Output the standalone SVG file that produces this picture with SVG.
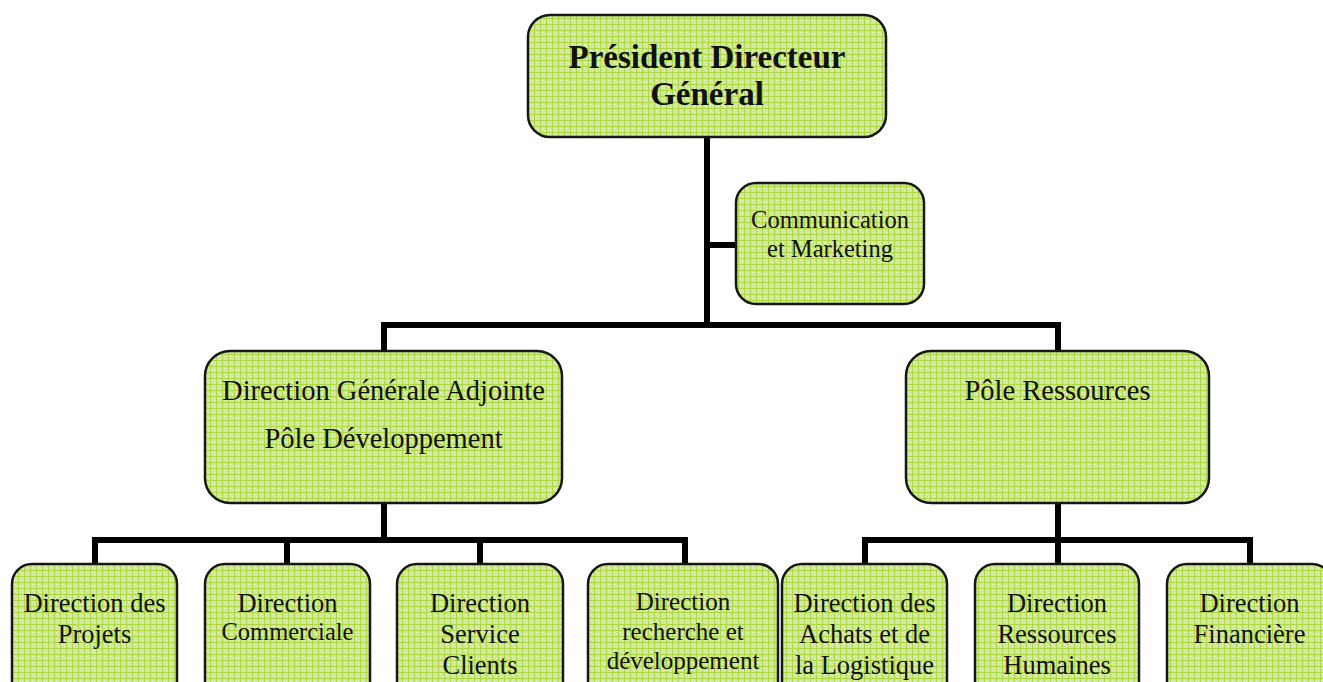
<svg xmlns="http://www.w3.org/2000/svg" width="1323" height="682" viewBox="0 0 1323 682">
<defs>
<pattern id="grid" width="6" height="6" patternUnits="userSpaceOnUse">
<rect width="6" height="6" fill="#d1e996"/>
<rect x="2" y="2" width="1" height="1" fill="#eef7d6"/>
<rect x="4" y="4" width="1" height="1" fill="#e6f3c4"/>
<rect x="0" y="0" width="6" height="1" fill="#aed844"/>
<rect x="0" y="0" width="1" height="6" fill="#aed844"/>
</pattern>
</defs>
<style>
.box{fill:url(#grid);stroke:#161616;stroke-width:2.5}
.t{font-family:"Liberation Serif","Times New Roman",serif;fill:#111;text-anchor:middle}
.c{fill:none;stroke:#000;stroke-width:6;stroke-linecap:square;stroke-linejoin:miter}
</style>
<rect width="1323" height="682" fill="#fff"/>
<g id="connectors">
<path class="c" d="M707 137V325M707 245H736M384 325H1058M384 325V351M1058 325V351"/>
<path class="c" d="M384 503V540M95 540H685M95 540V564M287 540V564M480 540V564M685 540V564"/>
<path class="c" d="M1058 503V564M865 540H1250M865 540V564M1250 540V564"/>
</g>
<g id="pdg">
<rect class="box" x="528" y="15" width="358" height="122" rx="22"/>
<text class="t" x="707" y="68" font-size="33" font-weight="bold">Président Directeur</text>
<text class="t" x="707" y="105" font-size="33" font-weight="bold">Général</text>
</g>
<g id="communication">
<rect class="box" x="736" y="183" width="188" height="121" rx="20"/>
<text class="t" x="830" y="228" font-size="24.5">Communication</text>
<text class="t" x="830" y="257" font-size="24.5">et Marketing</text>
</g>
<g id="dga">
<rect class="box" x="205" y="351" width="357" height="152" rx="25"/>
<text class="t" x="383.5" y="400" font-size="28.5">Direction Générale Adjointe</text>
<text class="t" x="383.5" y="448" font-size="28.5">Pôle Développement</text>
</g>
<g id="ressources">
<rect class="box" x="906" y="351" width="303" height="152" rx="25"/>
<text class="t" x="1057.5" y="400" font-size="28.5">Pôle Ressources</text>
</g>
<g id="projets">
<rect class="box" x="12" y="564" width="165" height="140" rx="20"/>
<text class="t" x="94.5" y="612" font-size="26.5">Direction des</text>
<text class="t" x="94.5" y="643" font-size="26.5">Projets</text>
</g>
<g id="commerciale">
<rect class="box" x="205" y="564" width="165" height="140" rx="20"/>
<text class="t" x="287.5" y="612" font-size="26.5">Direction</text>
<text class="t" x="287.5" y="640" font-size="24.5">Commerciale</text>
</g>
<g id="service-clients">
<rect class="box" x="397" y="564" width="166" height="140" rx="20"/>
<text class="t" x="480" y="612" font-size="26.5">Direction</text>
<text class="t" x="480" y="643" font-size="26.5">Service</text>
<text class="t" x="480" y="674" font-size="26.5">Clients</text>
</g>
<g id="recherche">
<rect class="box" x="588" y="564" width="190" height="140" rx="20"/>
<text class="t" x="683" y="610" font-size="25">Direction</text>
<text class="t" x="683" y="640" font-size="25">recherche et</text>
<text class="t" x="683" y="669" font-size="25">développement</text>
</g>
<g id="achats">
<rect class="box" x="782" y="564" width="165" height="140" rx="20"/>
<text class="t" x="864.5" y="612" font-size="26.5">Direction des</text>
<text class="t" x="864.5" y="643" font-size="26.5">Achats et de</text>
<text class="t" x="864.5" y="674" font-size="26.5">la Logistique</text>
</g>
<g id="rh">
<rect class="box" x="975" y="564" width="164" height="140" rx="20"/>
<text class="t" x="1057" y="612" font-size="26.5">Direction</text>
<text class="t" x="1057" y="643" font-size="26.5">Ressources</text>
<text class="t" x="1057" y="674" font-size="26.5">Humaines</text>
</g>
<g id="financiere">
<rect class="box" x="1167" y="564" width="165" height="140" rx="20"/>
<text class="t" x="1249.5" y="612" font-size="26.5">Direction</text>
<text class="t" x="1249.5" y="643" font-size="26.5">Financière</text>
</g>
</svg>
